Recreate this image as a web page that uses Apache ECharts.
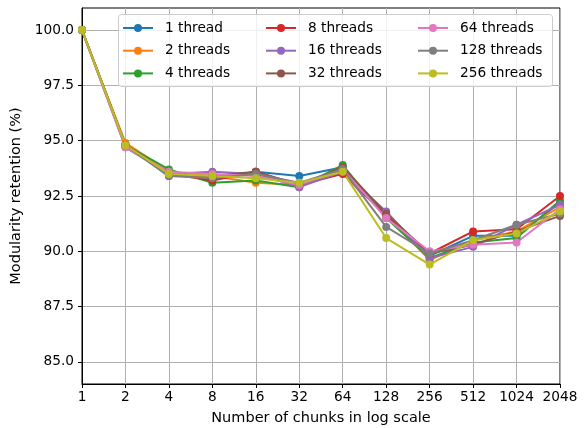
<!DOCTYPE html>
<html>
<head>
<meta charset="utf-8">
<script src="https://cdn.jsdelivr.net/npm/echarts@6/dist/echarts.min.js"></script>
<style>
  html, body { margin: 0; padding: 0; background: #fff; }
  #chart { width: 587px; height: 428px; }
</style>
</head>
<body>
<div id="chart"></div>
<script>
// Chunk counts along the x axis (log-2 spaced)
const chunks = ['1', '2', '4', '8', '16', '32', '64', '128', '256', '512', '1024', '2048'];

// Modularity retention (%) per thread count
const t1   = [100.0, 94.8, 93.6, 93.3, 93.6, 93.4, 93.8, 91.6, 89.8, 90.7, 90.7, 92.2];
const t2   = [100.0, 94.9, 93.6, 93.4, 93.1, 93.0, 93.7, 91.6, 89.6, 90.5, 90.9, 92.0];
const t4   = [100.0, 94.8, 93.7, 93.1, 93.2, 92.9, 93.9, 91.5, 89.7, 90.4, 90.6, 92.3];
const t8   = [100.0, 94.8, 93.5, 93.2, 93.6, 93.0, 93.5, 91.6, 89.9, 90.9, 91.0, 92.5];
const t16  = [100.0, 94.7, 93.5, 93.6, 93.5, 92.9, 93.6, 91.8, 89.7, 90.2, 91.2, 92.1];
const t32  = [100.0, 94.8, 93.4, 93.4, 93.6, 93.0, 93.8, 91.7, 89.9, 90.3, 90.9, 91.6];
const t64  = [100.0, 94.7, 93.6, 93.5, 93.4, 93.0, 93.7, 91.5, 90.0, 90.3, 90.4, 91.9];
const t128 = [100.0, 94.8, 93.4, 93.3, 93.5, 93.1, 93.7, 91.1, 89.9, 90.5, 91.2, 91.7];
const t256 = [100.0, 94.8, 93.5, 93.4, 93.3, 93.1, 93.6, 90.6, 89.4, 90.5, 90.8, 91.8];

const seriesNames = ['1 thread', '2 threads', '4 threads', '8 threads', '16 threads',
                     '32 threads', '64 threads', '128 threads', '256 threads'];
const seriesValues = [t1, t2, t4, t8, t16, t32, t64, t128, t256];
const palette = ['#1f77b4', '#ff7f0e', '#2ca02c', '#d62728', '#9467bd',
                 '#8c564b', '#e377c2', '#7f7f7f', '#bcbd22'];

const yTicks = [85, 87.5, 90, 92.5, 95, 97.5, 100];

const FONT = 'DejaVu Sans';
const TICK_SIZE = 13.7;
const NAME_SIZE = 14.5;
const chart = echarts.init(document.getElementById('chart'), null, { renderer: 'canvas' });

const series = seriesNames.map((name, i) => ({
  name: name,
  type: 'line',
  data: seriesValues[i],
  symbol: 'circle',
  symbolSize: 8,
  showAllSymbol: true,
  lineStyle: { width: 2, color: palette[i] },
  itemStyle: { color: palette[i] },
  emphasis: { disabled: true },
  animation: false
}));

function legendColumn(names, left) {
  return {
    data: names,
    orient: 'vertical',
    left: left,
    top: 21,
    padding: 0,
    itemWidth: 30,
    itemHeight: 10,
    itemGap: 8.7,
    textStyle: {
      fontFamily: FONT, fontSize: TICK_SIZE, color: '#000',
      lineHeight: 14, height: 14, padding: [0, 0, 0, 7]
    },
    selectedMode: false,
    z: 20
  };
}

chart.setOption({
  animation: false,
  color: palette,
  grid: {
    left: 82, right: 27, top: 8, bottom: 44,
    outerBoundsMode: 'none',
    containLabel: false,
    show: true, borderColor: '#000', borderWidth: 1, backgroundColor: 'transparent'
  },
  graphic: [{
    type: 'rect',
    shape: { x: 118.5, y: 14.5, width: 434, height: 72, r: 3 },
    style: { fill: 'rgba(255,255,255,0.8)', stroke: '#cccccc', lineWidth: 1 },
    z: 10
  }],
  legend: [
    legendColumn(seriesNames.slice(0, 3), 122),
    legendColumn(seriesNames.slice(3, 6), 265),
    legendColumn(seriesNames.slice(6, 9), 417)
  ],
  xAxis: {
    type: 'category',
    data: chunks,
    boundaryGap: false,
    name: 'Number of chunks in log scale',
    nameLocation: 'middle',
    nameGap: 27,
    nameTextStyle: { fontFamily: FONT, fontSize: NAME_SIZE, color: '#000' },
    axisLine: { lineStyle: { color: '#000', width: 1 } },
    axisTick: { alignWithLabel: true, inside: false, length: 4, lineStyle: { color: '#000' } },
    axisLabel: { fontFamily: FONT, fontSize: TICK_SIZE, color: '#000', margin: 6, interval: 0 },
    splitLine: { show: true, lineStyle: { color: '#b0b0b0', width: 1 } }
  },
  yAxis: {
    type: 'value',
    min: 84,
    max: 101,
    name: 'Modularity retention (%)',
    nameLocation: 'middle',
    nameGap: 52,
    nameTextStyle: { fontFamily: FONT, fontSize: NAME_SIZE, color: '#000' },
    axisLine: { show: true, lineStyle: { color: '#000', width: 1 } },
    axisTick: { show: true, length: 4, lineStyle: { color: '#000' }, customValues: yTicks },
    axisLabel: {
      fontFamily: FONT, fontSize: TICK_SIZE, color: '#000', margin: 8,
      customValues: yTicks,
      formatter: v => Number(v).toFixed(1)
    },
    splitLine: { show: true, lineStyle: { color: '#b0b0b0', width: 1 } }
  },
  series: series
});
</script>
</body>
</html>
